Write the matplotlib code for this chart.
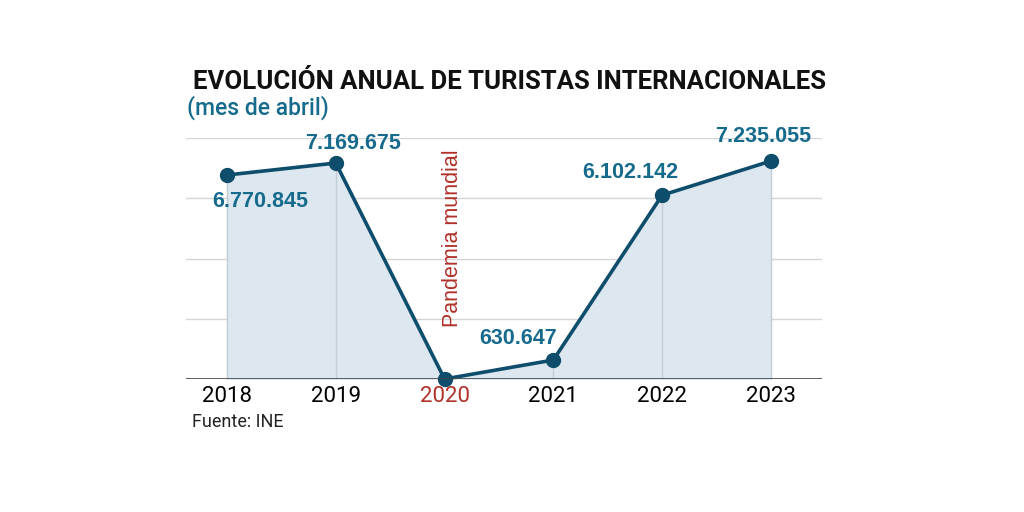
import matplotlib
matplotlib.use("Agg")
import matplotlib.pyplot as plt

years = ["2018", "2019", "2020", "2021", "2022", "2023"]
values = [6770845, 7169675, 0, 630647, 6102142, 7235055]
labels = ["6.770.845", "7.169.675", None, "630.647", "6.102.142", "7.235.055"]
label_offsets = [(33, -26), (17, 20), None, (-35, 22), (-32, 23), (-8, 25)]
grid_vals = [2e6, 4e6, 6e6, 8e6]

narrow = "Roboto"
sans = "Liberation Sans"

LINE = "#0e4d6b"
LAB = "#166b8c"
FILL = "#dce7ef"
RED = "#b0322a"

fig = plt.figure(figsize=(10.24, 5.12), dpi=100)
fig.patch.set_facecolor("white")
ax = fig.add_axes([186/1024, 1-379/512, (822-186)/1024, (379-138)/512])
x = list(range(len(years)))
ax.set_xlim(-0.377, 5.47)
ax.set_ylim(0, 8e6)

for g in grid_vals:
    ax.axhline(g, color="#d5d5d5", lw=1, zorder=0)
ax.fill_between(x, values, 0, color=FILL, zorder=1)
for xi, v in zip(x, values):
    ax.plot([xi, xi], [0, v], color="#c4ccd4", lw=1, zorder=2)
ax.plot(x, values, color=LINE, lw=2.6, zorder=3, marker="o", markersize=10, clip_on=False)
ax.axhline(0, color="#444444", lw=1.2, zorder=4)

for xi, v, lab, off in zip(x, values, labels, label_offsets):
    if lab is None:
        continue
    ax.annotate(lab, (xi, v), xytext=off, textcoords="offset pixels", ha="center", va="center",
                fontsize=15.5, fontweight="bold", color=LAB, family=sans, annotation_clip=False)

ax.text(2.07, 4.68e6, "Pandemia mundial", rotation=90, ha="center", va="center",
        fontsize=15.5, color=RED, family=sans)

for s in ax.spines.values():
    s.set_visible(False)
ax.set_yticks([])
ax.set_xticks(x)
ax.set_xticklabels(years, fontsize=16, family=narrow)
ax.tick_params(axis="x", length=0, pad=5)
for t in ax.get_xticklabels():
    if t.get_text() == "2020":
        t.set_color(RED)

fig.text(193/1024, 1-82/512, "EVOLUCIÓN ANUAL DE TURISTAS INTERNACIONALES", fontsize=18.5,
         fontweight="bold", family=narrow, ha="left", va="center", color="#111111")
fig.text(187/1024, 1-108/512, "(mes de abril)", fontsize=16.5, fontweight="medium", family=narrow,
         ha="left", va="center", color=LAB)
fig.text(192/1024, 1-422/512, "Fuente: INE", fontsize=13, family=narrow, ha="left", va="center",
         color="#222222")

fig.savefig("out.png", dpi=100, facecolor="white")
